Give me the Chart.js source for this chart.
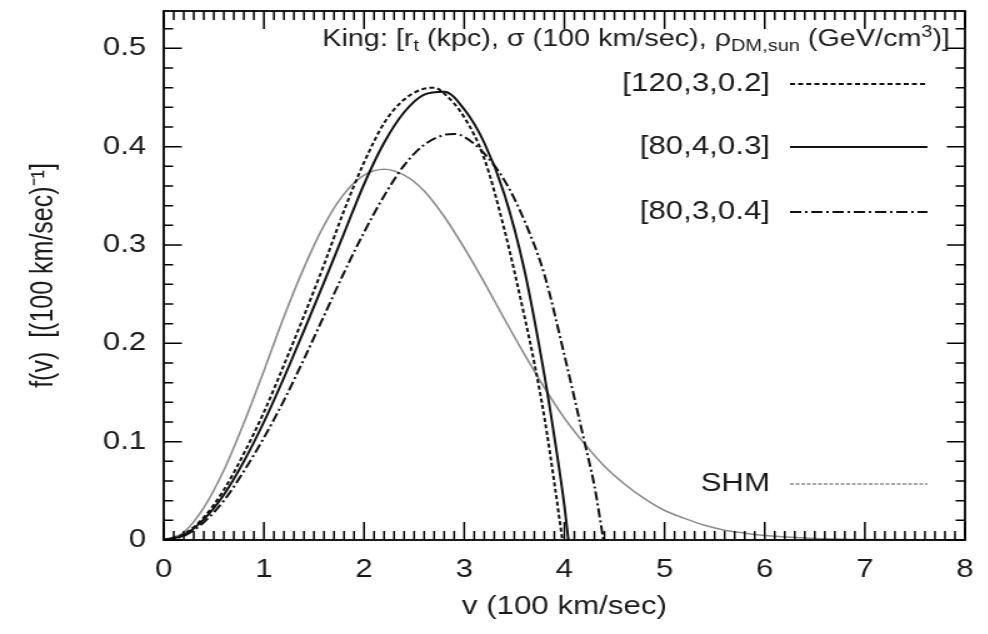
<!DOCTYPE html>
<html>
<head>
<meta charset="utf-8">
<title>King vs SHM velocity distribution</title>
<script src="https://cdn.jsdelivr.net/npm/chart.js@4.4.1/dist/chart.umd.min.js"></script>
<style>
  html, body { margin: 0; padding: 0; background: #fff; overflow: hidden; }
  /* the reference is stretched sideways, so draw narrow and widen */
  #wrap { width: 790px; height: 634px; transform: scaleX(1.25); transform-origin: 0 0; }
</style>
</head>
<body>
<div id="wrap"><canvas id="chart" width="790" height="634"></canvas></div>
<script>
const xTicks = [0, 1, 2, 3, 4, 5, 6, 7, 8];
const yTicks = [0, 0.1, 0.2, 0.3, 0.4, 0.5];
const seriesLabels = ['[120,3,0.2]', '[80,4,0.3]', '[80,3,0.4]', 'SHM'];

// King [120,3,0.2]
const vKing120 = [0, 0.2, 0.4, 0.6, 0.8, 1.0, 1.2, 1.4, 1.6, 1.8, 2.0, 2.2, 2.4, 2.6, 2.7, 2.8, 3.0, 3.2, 3.4, 3.6, 3.7, 3.8, 3.9, 3.98];
const fKing120 = [0, 0.006, 0.023, 0.051, 0.088, 0.13, 0.178, 0.228, 0.28, 0.335, 0.384, 0.424, 0.448, 0.459, 0.46, 0.454, 0.43, 0.388, 0.316, 0.228, 0.18, 0.125, 0.058, 0];
// King [80,4,0.3]
const vKing80a = [0, 0.2, 0.4, 0.6, 0.8, 1.0, 1.2, 1.4, 1.6, 1.8, 2.0, 2.2, 2.4, 2.6, 2.8, 3.0, 3.2, 3.4, 3.6, 3.8, 3.9, 4.0, 4.04];
const fKing80a = [0, 0.005, 0.021, 0.046, 0.08, 0.12, 0.165, 0.213, 0.262, 0.312, 0.362, 0.404, 0.435, 0.453, 0.456, 0.438, 0.404, 0.352, 0.275, 0.168, 0.105, 0.035, 0];
// King [80,3,0.4]
const vKing80b = [0, 0.2, 0.4, 0.6, 0.8, 1.0, 1.2, 1.4, 1.6, 1.8, 2.0, 2.2, 2.4, 2.6, 2.8, 2.9, 3.0, 3.2, 3.4, 3.6, 3.8, 4.0, 4.2, 4.3, 4.39];
const fKing80b = [0, 0.004, 0.018, 0.04, 0.07, 0.104, 0.142, 0.184, 0.228, 0.272, 0.313, 0.35, 0.381, 0.402, 0.412, 0.413, 0.41, 0.393, 0.366, 0.325, 0.27, 0.188, 0.1, 0.055, 0];
// SHM
const vShm = [0, 0.2, 0.4, 0.6, 0.8, 1.0, 1.2, 1.4, 1.6, 1.8, 2.0, 2.2, 2.4, 2.6, 2.8, 3.0, 3.2, 3.4, 3.6, 3.8, 4.0, 4.2, 4.4, 4.6, 4.8, 5.0, 5.2, 5.4, 5.6, 5.8, 6.0, 6.5, 7.0, 8.0];
const fShm = [0, 0.008, 0.033, 0.071, 0.119, 0.172, 0.227, 0.277, 0.32, 0.352, 0.371, 0.377, 0.371, 0.355, 0.329, 0.297, 0.262, 0.225, 0.189, 0.155, 0.124, 0.098, 0.075, 0.057, 0.042, 0.03, 0.022, 0.015, 0.01, 0.007, 0.0045, 0.0015, 0.0005, 0];

const FONT = '"Liberation Sans", Arial, Helvetica, sans-serif';
const INK = '#1a1a1a';

const pts = (xs, ys) => xs.map((v, i) => ({x: v, y: ys[i]}));

// frame with gnuplot style inward ticks on all four sides
const frameTicks = {
    id: 'frameTicks',
    afterDatasetsDraw(chart) {
        const {ctx, chartArea: a, scales: {x, y}} = chart;
        ctx.save();
        ctx.strokeStyle = '#000';
        ctx.lineWidth = 1.5;
        ctx.beginPath();
        for (let i = 0; i <= 80; i++) {
            const px = x.getPixelForValue(i / 10);
            const len = i % 10 === 0 ? 18 : 9;
            ctx.moveTo(px, a.bottom); ctx.lineTo(px, a.bottom - len);
            ctx.moveTo(px, a.top); ctx.lineTo(px, a.top + len);
        }
        for (let j = 0; j <= 26; j++) {
            const py = y.getPixelForValue(j * 0.02);
            const len = j % 5 === 0 ? 14.5 : 7.5;
            ctx.moveTo(a.left, py); ctx.lineTo(a.left + len, py);
            ctx.moveTo(a.right, py); ctx.lineTo(a.right - len, py);
        }
        ctx.stroke();
        ctx.lineWidth = 1.8;
        ctx.strokeRect(a.left, a.top, a.right - a.left, a.bottom - a.top);
        ctx.restore();
    }
};

// key in the top right corner, gnuplot style
const keyPlugin = {
    id: 'keyPlugin',
    afterDraw(chart) {
        const {ctx, chartArea: a} = chart;
        ctx.save();
        ctx.fillStyle = INK;
        ctx.textBaseline = 'middle';

        // header with sub/superscripts
        const big = '23px ' + FONT, small = '16px ' + FONT;
        const parts = [
            ['King: [r', 0], ['t', 1], [' (kpc), \u03c3 (100 km/sec), \u03c1', 0], ['DM,sun', 1],
            [' (GeV/cm', 0], ['3', -1], [')]', 0]
        ];
        let total = 0;
        parts.forEach(p => { ctx.font = p[1] ? small : big; total += ctx.measureText(p[0]).width; });
        let hx = a.right - 12 - total;
        const hy = a.top + 29;
        parts.forEach(p => {
            ctx.font = p[1] ? small : big;
            ctx.fillText(p[0], hx, hy + p[1] * 7);
            hx += ctx.measureText(p[0]).width;
        });

        const rowY = [73, 136, 201, 473];
        chart.data.datasets.forEach((ds, i) => {
            const yy = a.top + rowY[i];
            ctx.font = '25px ' + FONT;
            ctx.textAlign = 'right';
            ctx.fillStyle = INK;
            ctx.fillText(ds.label, a.right - 156, yy);
            ctx.textAlign = 'left';
            ctx.strokeStyle = ds.borderColor;
            ctx.lineWidth = ds.borderWidth;
            ctx.setLineDash(ds.keyDash || ds.borderDash || []);
            ctx.beginPath();
            ctx.moveTo(a.right - 140, yy);
            ctx.lineTo(a.right - 30, yy);
            ctx.stroke();
        });
        ctx.restore();
    }
};

const tickFont = {family: FONT, size: 25};

new Chart(document.getElementById('chart'), {
    type: 'line',
    data: {
        datasets: [
            {label: seriesLabels[0], data: pts(vKing120, fKing120), borderColor: '#111', borderWidth: 2, borderDash: [4, 2.5]},
            {label: seriesLabels[1], data: pts(vKing80a, fKing80a), borderColor: '#111', borderWidth: 2, borderDash: []},
            {label: seriesLabels[2], data: pts(vKing80b, fKing80b), borderColor: '#111', borderWidth: 2, borderDash: [9, 3, 2, 3]},
            {label: seriesLabels[3], data: pts(vShm, fShm), borderColor: '#8c8c8c', borderWidth: 1.6, borderDash: [], keyDash: [3, 1.5]}
        ]
    },
    options: {
        responsive: false,
        animation: false,
        devicePixelRatio: 1,
        layout: {padding: {top: 11, right: 18, bottom: 0, left: 0}},
        elements: {
            point: {radius: 0},
            line: {cubicInterpolationMode: 'monotone', fill: false}
        },
        plugins: {legend: {display: false}, tooltip: {enabled: false}},
        scales: {
            x: {
                type: 'linear', min: 0, max: 8,
                afterFit(s) { s.height = 94; s.paddingLeft = 0; s.paddingRight = 0; },
                afterBuildTicks(s) { s.ticks = xTicks.map(v => ({value: v})); },
                grid: {display: false, drawTicks: false},
                border: {display: false},
                ticks: {padding: 15, color: INK, font: tickFont, callback: v => String(v)},
                title: {display: true, text: 'v (100 km/sec)', color: INK, font: tickFont, padding: {top: 0, bottom: 12}}
            },
            y: {
                type: 'linear', min: 0, max: 0.538,
                afterFit(s) { s.width = 131; s.paddingTop = 0; s.paddingBottom = 0; },
                afterBuildTicks(s) { s.ticks = yTicks.map(v => ({value: v})); },
                grid: {display: false, drawTicks: false},
                border: {display: false},
                ticks: {padding: 14, color: INK, font: tickFont, callback: v => String(v)},
                title: {display: true, text: 'f(v)  [(100 km/sec)\u207b\u00b9]', color: INK, font: tickFont, padding: {top: 20, bottom: 0}}
            }
        }
    },
    plugins: [frameTicks, keyPlugin]
});
</script>
</body>
</html>
